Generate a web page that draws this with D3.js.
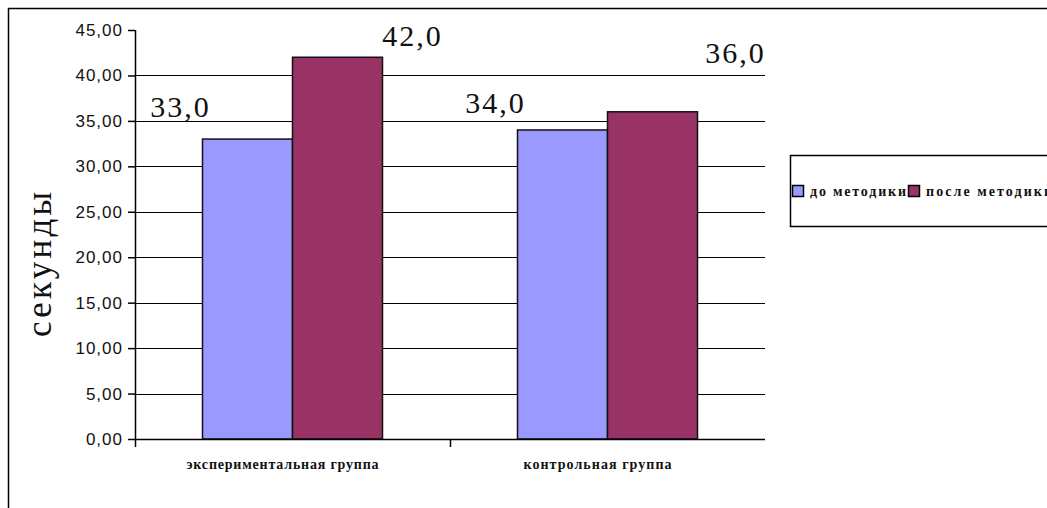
<!DOCTYPE html>
<html>
<head>
<meta charset="utf-8">
<script src="https://cdn.jsdelivr.net/npm/d3@7"></script>
<style>
  body { margin: 0; background: #fff; }
  svg { display: block; }
</style>
</head>
<body>
<svg id="chart" width="1047" height="508"></svg>
<script>
// данные с картинки
const categories = ["экспериментальная группа", "контрольная группа"]
const seriesNames = ["до методики", "после методики"]
const beforeValues = [33.0, 34.0]
const afterValues = [42.0, 36.0]
const yTicks = [0, 5, 10, 15, 20, 25, 30, 35, 40, 45]
const COLORS = ["#9999ff", "#993366"]

// подписи в Excel сдвинуты вручную, поэтому сдвиг для каждой точки свой
const LABEL_NUDGE = [
    [[-68, -22], [74, -11]],
    [[-68, -17], [82, -49]]
]

const svg = d3.select("#chart")
const fmt = (v, n) => v.toFixed(n).replace(".", ",")
const SERIF = "'Liberation Serif', 'Times New Roman', serif"

// рамка всей диаграммы (уходит за край окна)
svg.append("rect")
    .attr("x", 8.5).attr("y", 8.5)
    .attr("width", 1100).attr("height", 600)
    .style("fill", "none").style("stroke", "#000").style("stroke-width", 1.5)

const PL = 135, PR = 765, PT = 30, PB = 439

let y = d3.scaleLinear().domain([0, 45]).range([PB, PT])
let x0 = d3.scaleBand().domain(categories).range([PL, PR]).padding(0)
let x1 = d3.scaleBand().domain(seriesNames).range([0, x0.bandwidth()])
    .paddingInner(0).paddingOuter(0.75)

// сетка
svg.append("g")
    .selectAll("line")
    .data(yTicks.filter(t => t > 0 && t < 45))
    .join("line")
    .attr("x1", PL).attr("x2", PR)
    .attr("y1", d => Math.round(y(d)) + 0.5).attr("y2", d => Math.round(y(d)) + 0.5)
    .style("stroke", "#000").style("stroke-width", 1.2)

// столбики
const rows = categories.map((c, i) => ({cat: c, vals: [beforeValues[i], afterValues[i]], idx: i}))
const groups = svg.append("g").selectAll("g")
    .data(rows)
    .join("g")
    .attr("transform", d => "translate(" + x0(d.cat) + ",0)")

groups.selectAll("rect")
    .data(d => d.vals.map((v, j) => ({v: v, s: seriesNames[j], j: j})))
    .join("rect")
    .attr("x", d => x1(d.s))
    .attr("y", d => y(d.v))
    .attr("width", x1.bandwidth())
    .attr("height", d => PB - y(d.v))
    .style("fill", d => COLORS[d.j])
    .style("stroke", "#111").style("stroke-width", 1.5)

// подписи значений
groups.selectAll("text")
    .data(d => d.vals.map((v, j) => ({v: v, s: seriesNames[j], nudge: LABEL_NUDGE[d.idx][j]})))
    .join("text")
    .attr("x", d => x1(d.s) + x1.bandwidth() / 2 + d.nudge[0] + 1)
    .attr("y", d => y(d.v) + d.nudge[1])
    .attr("text-anchor", "middle")
    .style("font-family", SERIF)
    .style("font-size", "30px")
    .style("letter-spacing", "2px")
    .style("fill", "#111")
    .text(d => fmt(d.v, 1))

// ось Y
const yAxis = svg.append("g")
    .attr("transform", "translate(" + PL + ",0)")
    .call(d3.axisLeft(y).tickValues(yTicks).tickSize(7).tickPadding(5).tickFormat(d => fmt(d, 2)))
yAxis.select(".domain").remove()
yAxis.selectAll(".tick line").style("stroke", "#000").style("stroke-width", 1.5)
yAxis.selectAll(".tick text")
    .style("font-family", "'Liberation Sans', Arial, sans-serif")
    .style("font-size", "17px")
    .style("letter-spacing", "1px")
    .style("fill", "#111")
svg.append("line")
    .attr("x1", PL + 0.5).attr("x2", PL + 0.5)
    .attr("y1", PT).attr("y2", PB + 8)
    .style("stroke", "#000").style("stroke-width", 1.5)

// ось X
svg.append("line")
    .attr("x1", PL).attr("x2", PR)
    .attr("y1", PB + 0.5).attr("y2", PB + 0.5)
    .style("stroke", "#000").style("stroke-width", 1.5)
svg.append("g").selectAll("line")
    .data(categories.slice(1))
    .join("line")
    .attr("x1", d => x0(d) + 0.5).attr("x2", d => x0(d) + 0.5)
    .attr("y1", PB).attr("y2", PB + 8)
    .style("stroke", "#000").style("stroke-width", 1.5)

const CAT_WIDTH = [192, 148]
svg.append("g").selectAll("text")
    .data(categories)
    .join("text")
    .attr("x", (d, i) => x0(d) + x0.bandwidth() / 2 - 10 - CAT_WIDTH[i] / 2)
    .attr("y", PB + 30)
    .attr("textLength", (d, i) => CAT_WIDTH[i])
    .attr("lengthAdjust", "spacing")
    .style("font-family", SERIF)
    .style("font-size", "14px")
    .style("font-weight", "bold")
    .style("fill", "#111")
    .text(d => d)

// подпись оси Y
svg.append("text")
    .attr("transform", "translate(51,265) rotate(-90)")
    .attr("x", -72)
    .attr("textLength", 145)
    .attr("lengthAdjust", "spacing")
    .style("font-family", SERIF)
    .style("font-size", "35px")
    .style("fill", "#111")
    .text("секунды")

// легенда
svg.append("rect")
    .attr("x", 790.5).attr("y", 155.5)
    .attr("width", 300).attr("height", 71)
    .style("fill", "#fff").style("stroke", "#000").style("stroke-width", 1.5)
const legend = svg.append("g")
const LEGEND_X = [792, 908]
const LEGEND_W = [96, 126]
seriesNames.forEach((s, i) => {
    legend.append("rect")
        .attr("x", LEGEND_X[i] + 0.5).attr("y", 185.5)
        .attr("width", 11).attr("height", 11)
        .style("fill", COLORS[i]).style("stroke", "#000").style("stroke-width", 1.5)
    legend.append("text")
        .attr("x", LEGEND_X[i] + 18).attr("y", 196)
        .attr("textLength", LEGEND_W[i])
        .attr("lengthAdjust", "spacing")
        .style("font-family", SERIF)
        .style("font-size", "14px")
        .style("font-weight", "bold")
        .style("fill", "#111")
        .text(s)
})
</script>
</body>
</html>
